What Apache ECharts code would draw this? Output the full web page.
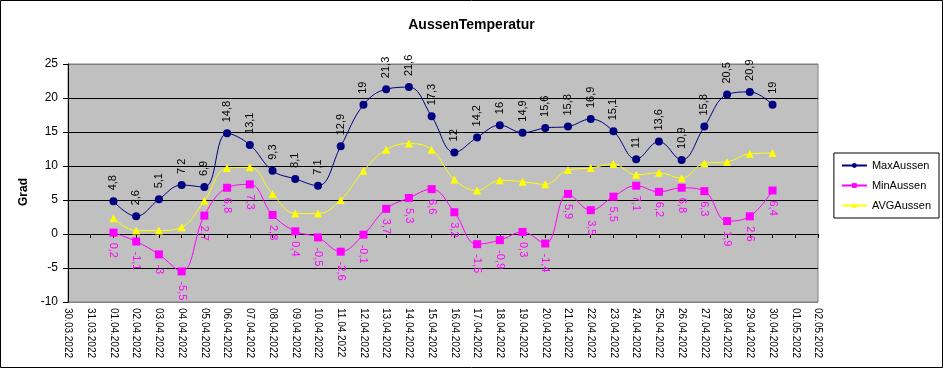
<!DOCTYPE html>
<html>
<head>
<meta charset="utf-8">
<script src="https://cdn.jsdelivr.net/npm/echarts@6/dist/echarts.min.js"></script>
<style>
html,body{margin:0;padding:0;background:#fff;}
#c{width:943px;height:368px;}
</style>
</head>
<body>
<div id="c"></div>
<script>
const dates = ['30.03.2022','31.03.2022','01.04.2022','02.04.2022','03.04.2022','04.04.2022','05.04.2022','06.04.2022','07.04.2022','08.04.2022','09.04.2022','10.04.2022','11.04.2022','12.04.2022','13.04.2022','14.04.2022','15.04.2022','16.04.2022','17.04.2022','18.04.2022','19.04.2022','20.04.2022','21.04.2022','22.04.2022','23.04.2022','24.04.2022','25.04.2022','26.04.2022','27.04.2022','28.04.2022','29.04.2022','30.04.2022','01.05.2022','02.05.2022'];
const maxAussen = [null,null,4.8,2.6,5.1,7.2,6.9,14.8,13.1,9.3,8.1,7.1,12.9,19,21.3,21.6,17.3,12,14.2,16,14.9,15.6,15.8,16.9,15.1,11,13.6,10.9,15.8,20.5,20.9,19,null,null];
const minAussen = [null,null,0.2,-1.1,-3,-5.5,2.7,6.8,7.3,2.8,0.4,-0.5,-2.6,-0.1,3.7,5.3,6.6,3.2,-1.5,-0.9,0.3,-1.4,5.9,3.5,5.5,7.1,6.2,6.8,6.3,1.9,2.6,6.4,null,null];
const avgAussen = [null,null,2.3,0.5,0.5,1.0,4.9,9.7,9.8,5.9,3.0,3.0,5.0,9.3,12.4,13.3,12.4,8.0,6.4,7.9,7.7,7.3,9.4,9.7,10.3,8.7,9.0,8.2,10.4,10.6,11.8,11.9,null,null];

const FONT = '"Liberation Sans", Arial, sans-serif';
const fmt = p => String(p.value).replace('.', ',');

const chart = echarts.init(document.getElementById('c'), null, {renderer:'canvas'});
chart.setOption({
  animation: false,
  backgroundColor: '#fff',
  textStyle: {fontFamily: FONT},
  title: {
    text: 'AussenTemperatur', left: 'center', top: 13,
    textStyle: {fontSize: 14, fontWeight: 'bold', color: '#000', fontFamily: FONT}
  },
  graphic: [{
    type: 'rect', silent: true, z: -10,
    shape: {x: 0.5, y: 0.5, width: 942, height: 367},
    style: {fill: 'none', stroke: '#000', lineWidth: 1}
  }],
  legend: {
    orient: 'vertical', right: 4, top: 153,
    padding: [6, 8, 6, 7], itemGap: 7, itemWidth: 25, itemHeight: 6,
    backgroundColor: '#fff', borderColor: '#000', borderWidth: 1,
    textStyle: {fontSize: 11, color: '#000', fontFamily: FONT, lineHeight: 13},
    data: ['MaxAussen', 'MinAussen', 'AVGAussen']
  },
  grid: {
    left: 68, right: 125, top: 64, bottom: 66,
    show: true, backgroundColor: '#C0C0C0', borderColor: '#808080', borderWidth: 1
  },
  xAxis: [{
    type: 'category', data: dates, boundaryGap: false, position: 'bottom',
    axisLine: {show: false, onZero: false}, axisTick: {show: false},
    axisLabel: {rotate: -90, interval: 0, fontSize: 10, color: '#000', margin: 6, fontFamily: FONT}
  }, {
    type: 'category', data: dates, boundaryGap: false, position: 'top',
    axisLine: {show: true, onZero: true, lineStyle: {color: '#000', width: 1}},
    axisTick: {show: true, inside: true, length: 4, interval: 0, lineStyle: {color: '#000'}},
    axisLabel: {show: false}
  }],
  yAxis: {
    type: 'value', min: -10, max: 25, interval: 5,
    name: 'Grad', nameLocation: 'middle', nameGap: 38, nameRotate: 90,
    nameTextStyle: {fontSize: 12, fontWeight: 'bold', color: '#000', fontFamily: FONT, padding: [0, 18, 0, 0]},
    axisLine: {show: true, lineStyle: {color: '#000'}},
    axisTick: {show: true, length: 5, lineStyle: {color: '#000'}},
    axisLabel: {fontSize: 12, color: '#000', margin: 10, fontFamily: FONT},
    splitLine: {show: true, lineStyle: {color: ['#808080','#000','#000','#000','#000','#000','#000','#808080'], width: 1}}
  },
  series: [{
    name: 'MaxAussen', type: 'line', data: maxAussen, smooth: 0.4,
    symbol: 'circle', symbolSize: 8, showAllSymbol: true,
    itemStyle: {color: '#000080'}, lineStyle: {color: '#000080', width: 1},
    label: {show: true, position: 'top', distance: 7, rotate: 90, align: 'left', verticalAlign: 'middle',
      fontSize: 11, color: '#000', fontFamily: FONT, formatter: fmt},
    z: 4
  }, {
    name: 'MinAussen', type: 'line', data: minAussen, smooth: 0.4,
    symbol: 'rect', symbolSize: 8, showAllSymbol: true,
    itemStyle: {color: '#FF00FF'}, lineStyle: {color: '#FF00FF', width: 1},
    label: {show: true, position: 'bottom', distance: 6, rotate: -90, align: 'left', verticalAlign: 'middle',
      fontSize: 11, color: '#FF00FF', fontFamily: FONT, formatter: fmt},
    z: 3
  }, {
    name: 'AVGAussen', type: 'line', data: avgAussen, smooth: 0.4,
    symbol: 'triangle', symbolSize: 8, showAllSymbol: true,
    itemStyle: {color: '#FFFF00'}, lineStyle: {color: '#FFFF00', width: 1},
    label: {show: false},
    z: 2
  }]
});
</script>
</body>
</html>
